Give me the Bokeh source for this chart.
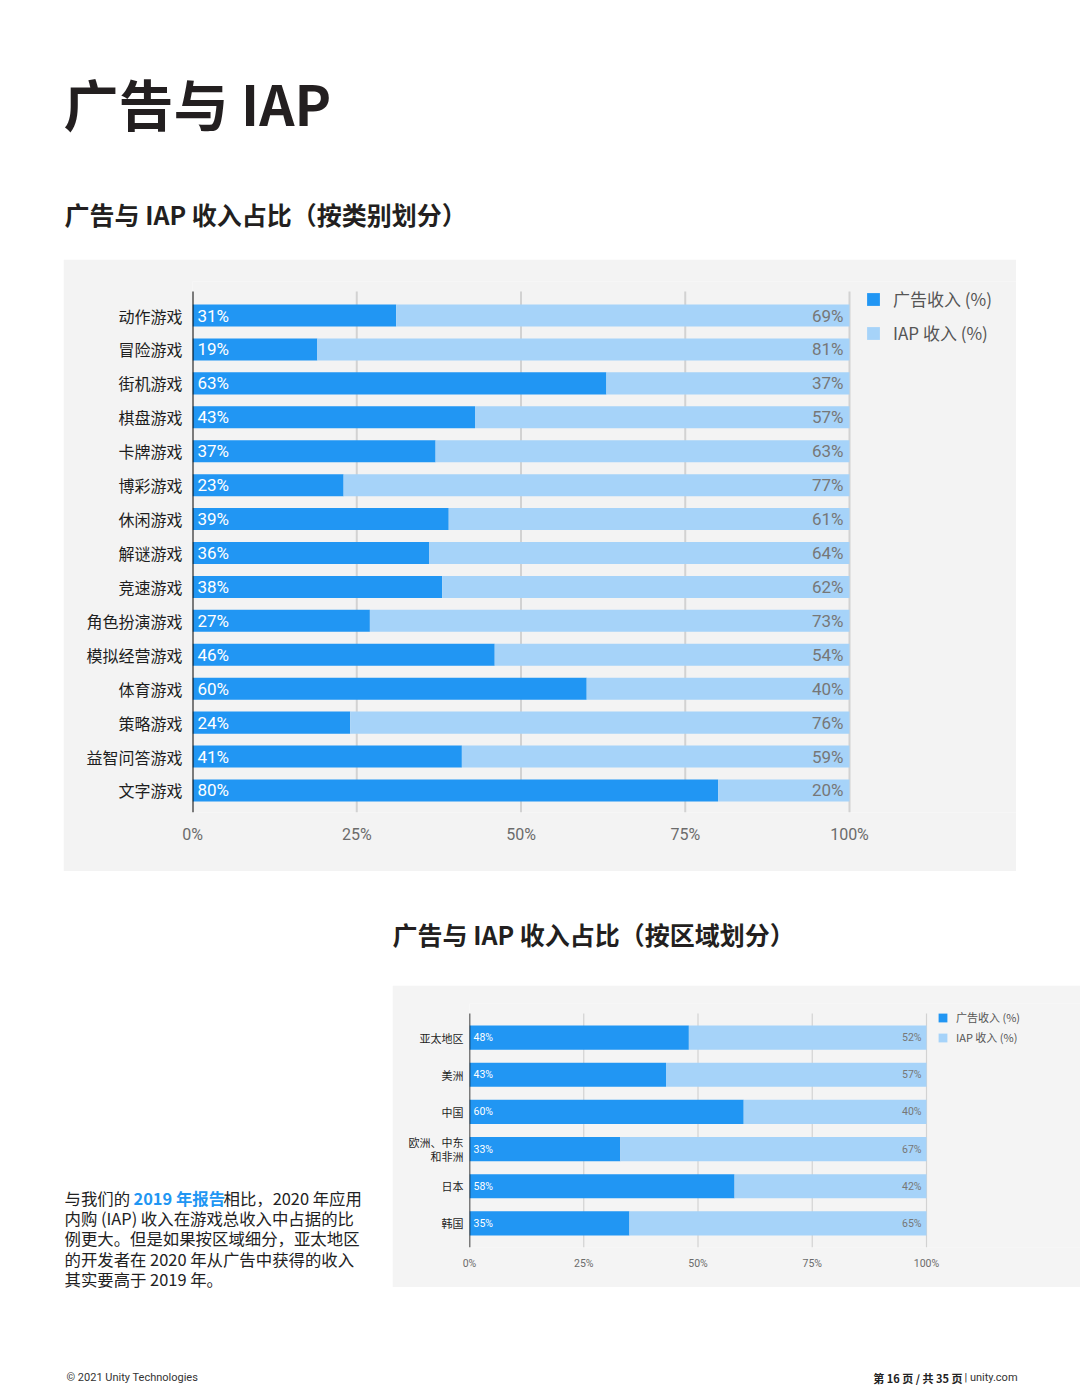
from bokeh.plotting import figure
from bokeh.models import Range1d, FixedTicker, Legend, LegendItem, Spacer
from bokeh.layouts import column, row
from bokeh.core.properties import value
from bokeh.embed import file_html
from bokeh.resources import INLINE

# ---------------- data ----------------
genres = ["动作游戏", "冒险游戏", "街机游戏", "棋盘游戏", "卡牌游戏", "博彩游戏", "休闲游戏",
          "解谜游戏", "竞速游戏", "角色扮演游戏", "模拟经营游戏", "体育游戏", "策略游戏",
          "益智问答游戏", "文字游戏"]
genre_ad = [31, 19, 63, 43, 37, 23, 39, 36, 38, 27, 46, 60, 24, 41, 80]
genre_iap = [69, 81, 37, 57, 63, 77, 61, 64, 62, 73, 54, 40, 76, 59, 20]

regions = ["亚太地区", "美洲", "中国", "欧洲、中东\n和非洲", "日本", "韩国"]
region_ad = [48, 43, 60, 33, 58, 35]
region_iap = [52, 57, 40, 67, 42, 65]

x_ticks = [0, 25, 50, 75, 100]
x_tick_labels = ["0%", "25%", "50%", "75%", "100%"]
series_names = ["广告收入 (%)", "IAP 收入 (%)"]

# ---------------- style ----------------
DARK = "#2196f3"
LIGHT = "#a6d3f9"
BG1 = "#f3f3f3"
BG2 = "#f4f4f4"
CJK = "Noto Sans CJK SC"
NUM = "Roboto"
INK = "#231f20"


def bar_chart(cats, ad, iap, width, height, borders, plot_px, s, legend_loc, legend_geom):
    n = len(cats)
    idx = list(range(n))
    frame_w = width - borders[0] - borders[1]
    frame_h = height - borders[2] - borders[3]
    x_end = 100.0 * frame_w / plot_px  # frame extends right to hold the legend
    row_px = (frame_h - s["top_extra"]) / (n + 0.3)
    y_top = -0.65 - s["top_extra"] / row_px      # room above for the legend
    y_bot = n - 1 + 0.65
    axis_top = -0.65 - s["axis_extra"] / row_px  # where the axis / grid lines start
    p = figure(width=width, height=height, x_range=Range1d(0, x_end),
               y_range=Range1d(y_bot, y_top),
               output_backend="svg", toolbar_location=None,
               min_border_left=borders[0], min_border_right=borders[1],
               min_border_top=borders[2], min_border_bottom=borders[3],
               background_fill_color=s["bg"], border_fill_color=s["bg"],
               outline_line_color=None)

    # vertical grid lines (drawn as segments so they stop where the reference's do)
    gx = x_ticks[1:]
    p.segment(x0=gx, x1=gx, y0=[axis_top] * len(gx), y1=[y_bot] * len(gx),
              line_color="#d2d2d2", line_width=s["gw"])

    right = [a + b for a, b in zip(ad, iap)]
    r1 = p.hbar(y=idx, left=0, right=ad, height=0.65, fill_color=DARK, line_color=None)
    r2 = p.hbar(y=idx, left=ad, right=right, height=0.65, fill_color=LIGHT, line_color=None)

    # category axis line
    p.segment(x0=[x_ticks[0]], x1=[x_ticks[0]], y0=[axis_top], y1=[y_bot],
              line_color="black", line_width=s["axw"])

    p.text(x=[0] * n, y=idx, text=[f"{v}%" for v in ad], x_offset=s["off"],
           text_align="left", text_baseline="middle", text_color="white",
           text_font=value(NUM), text_font_size=s["val"])
    p.text(x=right, y=idx, text=[f"{v}%" for v in iap], x_offset=-s["off"] - 1,
           text_align="right", text_baseline="middle", text_color="#777777",
           text_font=value(NUM), text_font_size=s["val"])

    p.xaxis.ticker = FixedTicker(ticks=x_ticks)
    p.xaxis.major_label_overrides = {t: l for t, l in zip(x_ticks, x_tick_labels)}
    p.xaxis.axis_line_color = None
    p.xaxis.major_tick_line_color = None
    p.xaxis.minor_tick_line_color = None
    p.xaxis.major_tick_out = 0
    p.xaxis.major_tick_in = 0
    p.xaxis.major_label_standoff = s["xstand"]
    p.xaxis.major_label_text_font = NUM
    p.xaxis.major_label_text_font_size = s["tick"]
    p.xaxis.major_label_text_color = "#6b6b6b"

    p.yaxis.ticker = FixedTicker(ticks=idx)
    p.yaxis.major_label_overrides = {i: c for i, c in enumerate(cats)}
    p.yaxis.axis_line_color = None
    p.yaxis.major_tick_line_color = None
    p.yaxis.minor_tick_line_color = None
    p.yaxis.major_tick_out = 0
    p.yaxis.major_tick_in = 0
    p.yaxis.major_label_standoff = s["ystand"]
    p.yaxis.major_label_text_font = CJK
    p.yaxis.major_label_text_font_size = s["cat"]
    p.yaxis.major_label_text_color = "#1e1e1e"
    p.yaxis.major_label_text_line_height = s["lh"]

    p.xgrid.grid_line_color = None
    p.ygrid.grid_line_color = None

    gw, sp, stand, fs = legend_geom
    legend = Legend(items=[LegendItem(label=series_names[0], renderers=[r1]),
                           LegendItem(label=series_names[1], renderers=[r2])],
                    location=legend_loc, orientation="vertical",
                    glyph_width=gw, glyph_height=gw, label_height=gw, label_width=20,
                    spacing=sp, label_standoff=stand, padding=0, margin=0,
                    background_fill_alpha=0, border_line_color=None,
                    label_text_font=CJK, label_text_font_size=fs,
                    label_text_color="#555555", label_text_baseline="middle")
    p.add_layout(legend)
    return p


p1 = bar_chart(genres, genre_ad, genre_iap, 953, 612, (129, 0, 22, 59), 657,
               dict(bg=BG1, off=5, val="17px", xstand=12, tick="16px", axw=2,
                    ystand=10, cat="16px", gw=2, lh=1.2, top_extra=12, axis_extra=2),
               (673, 467), (16, 9, 12, "17px"))

p2 = bar_chart(regions, region_ad, region_iap, 688, 302, (77, 0, 18, 40), 457,
               dict(bg=BG2, off=4, val="10.5px", xstand=9, tick="10.5px", axw=1.5,
                    ystand=6, cat="11px", gw=1.2, lh=0.85, top_extra=10, axis_extra=0),
               (468, 202), (11, 4, 8, "11px"))


def text_fig(x0, y0, w, h):
    p = figure(width=w, height=h, x_range=Range1d(x0, x0 + w), y_range=Range1d(y0 + h, y0),
               x_axis_type=None, y_axis_type=None, output_backend="svg",
               toolbar_location=None, min_border=0, outline_line_color=None,
               background_fill_color="white", border_fill_color="white")
    return p


header = text_fig(0, 0, 1080, 259)
header.text(x=[63], y=[101], text=["广告与 IAP"], text_font=value(CJK),
            text_font_size="55px", text_font_style="bold", text_color=INK,
            text_baseline="middle", text_align="left")
header.text(x=[64], y=[213], text=["广告与 IAP 收入占比（按类别划分）"], text_font=value(CJK),
            text_font_size="25px", text_font_style="bold", text_color=INK,
            text_baseline="middle", text_align="left")

strip2 = text_fig(0, 871, 1080, 114)
strip2.text(x=[392], y=[933], text=["广告与 IAP 收入占比（按区域划分）"], text_font=value(CJK),
            text_font_size="25px", text_font_style="bold", text_color=INK,
            text_baseline="middle", text_align="left")

para = text_fig(0, 985, 392, 314)
para_lines = ["内购 (IAP) 收入在游戏总收入中占据的比",
              "例更大。但是如果按区域细分，亚太地区",
              "的开发者在 2020 年从广告中获得的收入",
              "其实要高于 2019 年。"]
line_y = [1197, 1217, 1237, 1258, 1278]
para.text(x=[64], y=[line_y[0]], text=["与我们的"], text_font=value(CJK),
          text_font_size="16.4px", text_color="#222222", text_baseline="middle")
para.text(x=[133], y=[line_y[0]], text=["2019 年报告"], text_font=value(CJK),
          text_font_size="16.4px", text_font_style="bold", text_color=DARK,
          text_baseline="middle")
para.text(x=[223], y=[line_y[0]], text=["相比，2020 年应用"], text_font=value(CJK),
          text_font_size="16.4px", text_color="#222222", text_baseline="middle")
para.text(x=[64] * 4, y=line_y[1:], text=para_lines, text_font=value(CJK),
          text_font_size="16.4px", text_color="#222222", text_baseline="middle")

footer = text_fig(0, 1299, 1080, 91)
footer.text(x=[66], y=[1377], text=["© 2021 Unity Technologies"], text_font=value(NUM),
            text_font_size="11px", text_color="#333333", text_baseline="middle")
footer.text(x=[962], y=[1377], text=["第 16 页 / 共 35 页"], text_font=value(CJK),
            text_font_size="11px", text_font_style="bold", text_color="#222222",
            text_baseline="middle", text_align="right")
footer.text(x=[964], y=[1377], text=["| unity.com"], text_font=value(NUM),
            text_font_size="11px", text_color="#333333", text_baseline="middle",
            text_align="left")

layout = column(header,
                row(Spacer(width=63, height=612), p1),
                strip2,
                row(column(para), column(p2)),
                footer)

open("out.html", "w").write(file_html(layout, INLINE))
